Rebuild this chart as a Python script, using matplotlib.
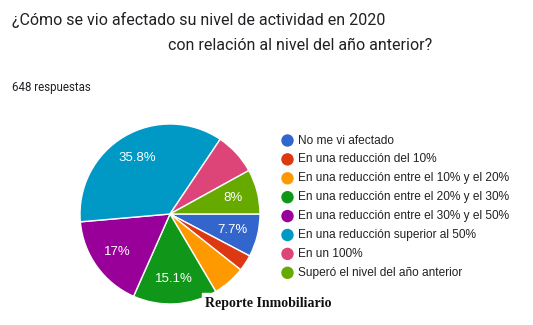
import numpy as np
import matplotlib
matplotlib.use('Agg')
import matplotlib.pyplot as plt

#answers from the google form (648 in total)
labels = ['No me vi afectado',
          'En una reducción del 10%',
          'En una reducción entre el 10% y el 20%',
          'En una reducción entre el 20% y el 30%',
          'En una reducción entre el 30% y el 50%',
          'En una reducción superior al 50%',
          'En un 100%',
          'Superó el nivel del año anterior']
counts = [50, 19, 38, 98, 110, 232, 49, 52]
colors = ['#3366cc', '#dc3912', '#ff9900', '#109618',
          '#990099', '#0099c6', '#dd4477', '#66aa00']
total = 648

W, H = 533, 325
fig = plt.figure(figsize=(W/100, H/100), dpi=100)

#pie axes placed in pixels: center (170,214), radius 90
cx, cy, r = 170, 214, 90
ax = fig.add_axes([(cx-r)/W, (H-cy-r)/H, 2*r/W, 2*r/H])

def fmt(p):
    if p < 7.7:
        return ''
    s = '%.1f' % p
    if s.endswith('.0'):
        s = s[:-2]
    return s + '%'

wedges, texts = ax.pie(counts, colors=colors, startangle=0, counterclock=False,
                       wedgeprops={'edgecolor': 'white', 'linewidth': 1},
                       radius=1)
# slice labels
ang0 = 0
for c in counts:
    p = 100*c/total
    mid = ang0 - 360*c/total/2
    ang0 -= 360*c/total
    t = fmt(p)
    if t:
        ax.text(0.72*np.cos(np.radians(mid)), 0.72*np.sin(np.radians(mid)), t,
                ha='center', va='center', color='white', fontsize=9.5,
                family='Liberation Sans')
ax.set_xlim(-1, 1)
ax.set_ylim(-1, 1)
ax.set_aspect('equal')
ax.axis('off')

#overlay axes in pixel coords for text/legend
ov = fig.add_axes([0, 0, 1, 1], zorder=5)
ov.set_xlim(0, W)
ov.set_ylim(H, 0)
ov.axis('off')
ov.patch.set_alpha(0)

ov.text(12, 20, '¿Cómo se vio afectado su nivel de actividad en 2020',
        fontsize=11.5, color='#202124', family='Roboto', va='center')
ov.text(168, 45, 'con relación al nivel del año anterior?',
        fontsize=11.5, color='#202124', family='Roboto', va='center')
ov.text(12, 88, '648 respuestas', fontsize=8.3, color='#202124',
        family='Roboto', va='center')

y0, dy = 140.5, 18.9
for i, (lab, col) in enumerate(zip(labels, colors)):
    y = y0 + i*dy
    ov.scatter([287.5], [y], s=80, color=col, edgecolors='none')
    ov.text(298, y, lab, fontsize=8.6, color='#222222',
            family='Liberation Sans', va='center')

#watermark
ov.add_patch(plt.Rectangle((202, 293), 140, 26, color='white', zorder=6))
ov.text(205, 303, 'Reporte Inmobiliario', fontsize=10, fontweight='bold',
        family='Liberation Serif', color='#111111', va='center', zorder=7)

fig.savefig('out.png', dpi=100, facecolor='white')
